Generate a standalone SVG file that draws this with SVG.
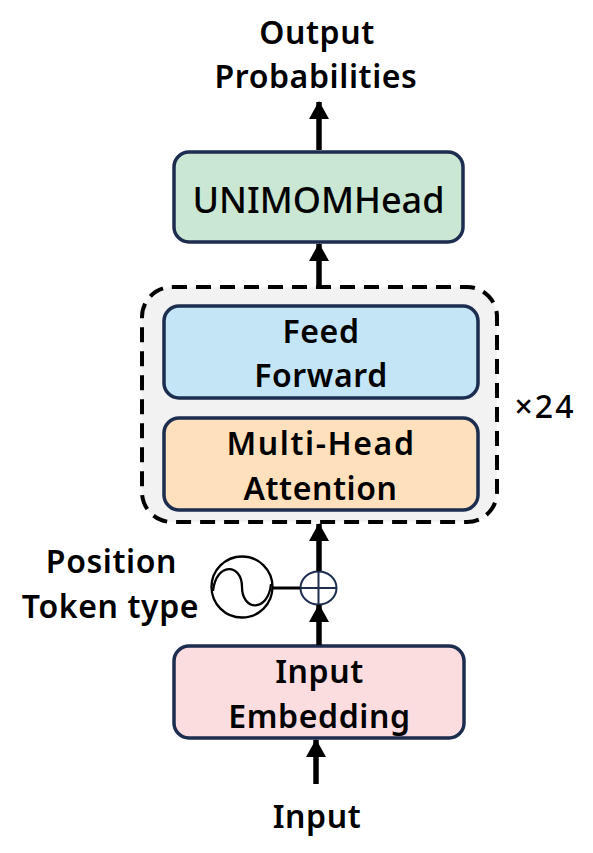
<svg xmlns="http://www.w3.org/2000/svg" width="593" height="853" viewBox="0 0 593 853">
<defs>
<style>
.t{font-family:"Noto Sans","Open Sans","Liberation Sans",sans-serif;font-weight:600;fill:#000;text-anchor:middle;font-size:32px;letter-spacing:0.6px}
.box{stroke:#1c2d4f;stroke-width:3.5}
.conn{stroke:#000;stroke-width:5.5;fill:none}
</style>
<marker id="ah" markerUnits="userSpaceOnUse" markerWidth="18" markerHeight="20" refX="17" refY="10" orient="auto">
<path d="M0,0 L18,10 L0,20 z" fill="#000"/>
</marker>
</defs>
<rect width="593" height="853" fill="#fff"/>

<g id="output-label">
<text class="t" x="317" y="44">Output</text>
<text class="t" x="316" y="88">Probabilities</text>
</g>

<g id="repeat-block">
<rect x="142" y="287" width="355" height="235" rx="30" fill="#f2f2f2" stroke="#000" stroke-width="4" stroke-dasharray="15 9"/>
<text class="t" x="545" y="418" style="font-weight:500;letter-spacing:2px">×24</text>
</g>

<g id="unimomhead">
<rect class="box" x="174" y="152" width="289" height="90" rx="15" fill="#c9e7d2"/>
<text class="t" x="318.5" y="213" style="font-size:36px;font-weight:500;letter-spacing:0">UNIMOMHead</text>
</g>

<g id="feed-forward">
<rect class="box" x="164" y="306" width="314" height="92" rx="15" fill="#c3e5f5"/>
<text class="t" x="321" y="343">Feed</text>
<text class="t" x="321" y="387">Forward</text>
</g>

<g id="multi-head-attention">
<rect class="box" x="164" y="418" width="314" height="92" rx="15" fill="#fee0bc"/>
<text class="t" x="321" y="455" style="letter-spacing:1.6px">Multi-Head</text>
<text class="t" x="320.5" y="500">Attention</text>
</g>

<g id="positional-encoding">
<circle cx="242" cy="587" r="30.5" fill="#fff" stroke="#000" stroke-width="2.3"/>
<path d="M213,591 C216,562 242,563 242,587 C242,611 268,613 271,584" fill="none" stroke="#000" stroke-width="2.3"/>
<text class="t" x="111.5" y="573">Position</text>
<text class="t" x="110.5" y="618">Token type</text>
</g>

<g id="add">
<ellipse cx="318.5" cy="588" rx="18" ry="16.5" fill="#fff" stroke="#1c2d4f" stroke-width="2"/>
<line x1="300.5" y1="588" x2="336.5" y2="588" stroke="#1c2d4f" stroke-width="2"/>
<line x1="318.5" y1="571.5" x2="318.5" y2="604.5" stroke="#1c2d4f" stroke-width="2"/>
</g>

<g id="input-embedding">
<rect class="box" x="174" y="646" width="290" height="92" rx="15" fill="#fbdde0"/>
<text class="t" x="319.5" y="683">Input</text>
<text class="t" x="319.5" y="728">Embedding</text>
</g>

<g id="input-label">
<text class="t" x="317" y="828">Input</text>
</g>

<g id="connectors">
<line class="conn" x1="319" y1="150" x2="319" y2="102" marker-end="url(#ah)"/>
<line class="conn" x1="319" y1="285" x2="319" y2="244" marker-end="url(#ah)"/>
<line class="conn" x1="319" y1="571" x2="319" y2="524" marker-end="url(#ah)"/>
<line class="conn" x1="319" y1="645" x2="319" y2="605" marker-end="url(#ah)"/>
<line class="conn" x1="316" y1="784" x2="316" y2="740" marker-end="url(#ah)"/>
<line x1="273" y1="588" x2="300" y2="588" stroke="#000" stroke-width="3"/>
</g>
</svg>
